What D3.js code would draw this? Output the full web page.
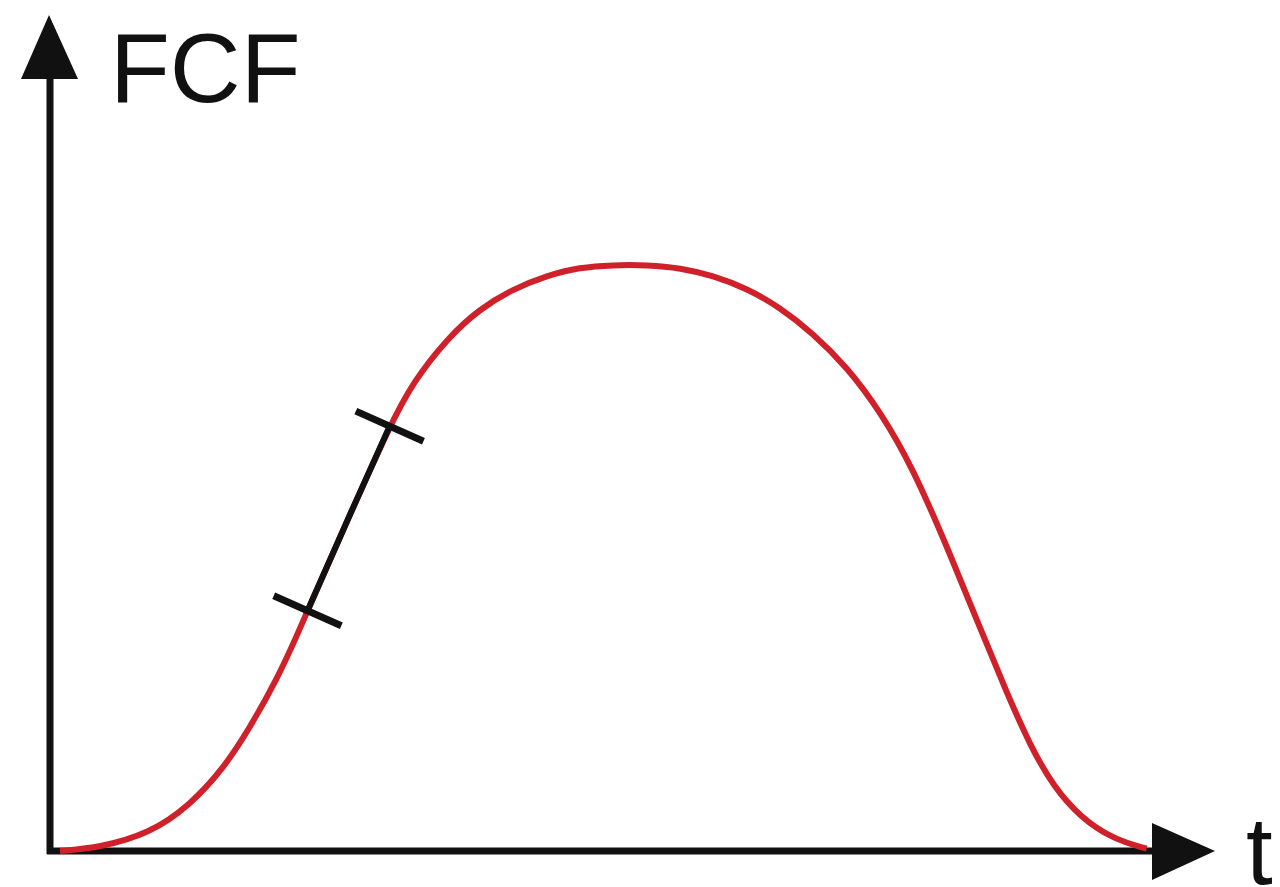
<!DOCTYPE html>
<html>
<head>
<meta charset="utf-8">
<script src="https://cdn.jsdelivr.net/npm/d3@7"></script>
<style>
  html, body { margin: 0; padding: 0; background: #fff; }
  svg { display: block; }
</style>
</head>
<body>
<svg width="1280" height="887"></svg>
<script>
// time (0..100) and FCF (0..100, peak = 100)
var t_values = [0.9, 4.5, 9.0, 12.6, 15.6, 18.0, 20.5, 22.3, 23.2, 27.0, 30.6, 32.7, 35.8, 38.7,
  41.7, 44.8, 47.7, 50.7, 53.8, 56.8, 59.7, 62.8, 65.8, 68.7, 71.8, 74.8, 77.7, 80.8, 83.8,
  86.2, 88.3, 90.4, 92.8, 95.8, 98.8];
var fcf_values = [0, 0.6, 3.0, 7.8, 14.0, 21.0, 29.5, 37.0, 41.0, 57.3, 72.5, 80.0, 87.5, 92.5,
  95.9, 98.2, 99.6, 100, 100, 99.5, 98.2, 96.0, 92.7, 88.4, 82.6, 75.0, 65.5, 52.0, 38.0,
  27.0, 18.0, 11.0, 5.8, 2.0, 0.4];
// the marked stretch of the curve
var mark_range = [23.2, 30.6];
var axis_labels = { y: "FCF", x: "t" };

var data = t_values.map(function(t, i) { return { t: t, f: fcf_values[i] }; });

var svg = d3.select("svg"),
    origin = { x: 50, y: 851 };

var x = d3.scaleLinear().domain([0, 100]).range([origin.x, 1160]),
    y = d3.scaleLinear().domain([0, 100]).range([origin.y, 265]);

var line = d3.line()
    .x(function(d) { return x(d.t); })
    .y(function(d) { return y(d.f); })
    .curve(d3.curveBasis);

// axes with arrow heads
svg.append("line")
    .attr("x1", origin.x).attr("y1", origin.y + 3)
    .attr("x2", origin.x).attr("y2", 70)
    .attr("stroke", "#111").attr("stroke-width", 7);
svg.append("path")
    .attr("d", "M" + (origin.x - 1) + ",15 L" + (origin.x + 28) + ",79 L" + (origin.x - 29) + ",79 Z")
    .attr("fill", "#111");

svg.append("line")
    .attr("x1", origin.x - 3).attr("y1", origin.y)
    .attr("x2", 1160).attr("y2", origin.y)
    .attr("stroke", "#111").attr("stroke-width", 7);

// red curve
svg.append("path")
    .datum(data)
    .attr("fill", "none")
    .attr("stroke", "#d0202a")
    .attr("stroke-width", 6)
    .attr("d", line);

svg.append("path")
    .attr("d", "M1215,851 L1152,823 L1152,880 Z")
    .attr("fill", "#111");

// black marked segment with perpendicular end ticks
var seg = data.filter(function(d) { return d.t >= mark_range[0] && d.t <= mark_range[1]; });
svg.append("path")
    .datum(seg)
    .attr("fill", "none")
    .attr("stroke", "#111")
    .attr("stroke-width", 6)
    .attr("d", d3.line()
      .x(function(d) { return x(d.t); })
      .y(function(d) { return y(d.f); })
      .curve(d3.curveMonotoneX));

var p0 = seg[0], p1 = seg[seg.length - 1];
var dx = x(p1.t) - x(p0.t), dy = y(p1.f) - y(p0.f),
    len = Math.sqrt(dx * dx + dy * dy),
    nx = -dy / len, ny = dx / len, half = 37;

svg.selectAll(".tick-mark")
    .data([p0, p1])
    .enter().append("line")
      .attr("class", "tick-mark")
      .attr("x1", function(d) { return x(d.t) - nx * half; })
      .attr("y1", function(d) { return y(d.f) - ny * half; })
      .attr("x2", function(d) { return x(d.t) + nx * half; })
      .attr("y2", function(d) { return y(d.f) + ny * half; })
      .attr("stroke", "#111")
      .attr("stroke-width", 7);

// labels
svg.append("text")
    .attr("x", 110).attr("y", 102)
    .attr("font-family", "Liberation Sans, Arial, sans-serif")
    .attr("font-size", 98)
    .attr("fill", "#111")
    .text(axis_labels.y);

svg.append("text")
    .attr("x", 1246).attr("y", 884)
    .attr("font-family", "Liberation Sans, Arial, sans-serif")
    .attr("font-size", 96)
    .attr("fill", "#111")
    .text(axis_labels.x);
</script>
</body>
</html>
